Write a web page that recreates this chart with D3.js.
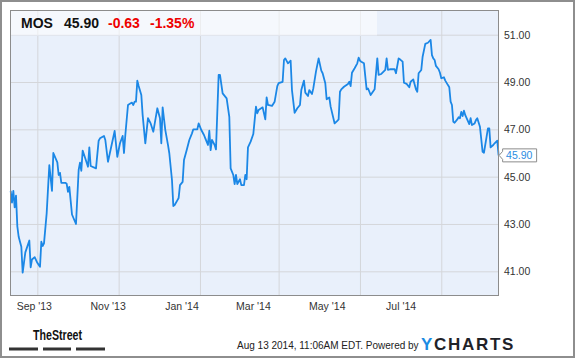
<!DOCTYPE html>
<html>
<head>
<meta charset="utf-8">
<script src="https://cdn.jsdelivr.net/npm/d3@7"></script>
<style>
  body { margin: 0; background: #fff; }
  text { font-family: "Liberation Sans", Arial, sans-serif; }
</style>
</head>
<body>
<div id="chart"></div>
<script>
// daily closes, MOS, Aug 2013 - Aug 2014
let dates = [
  "2013-08-12","2013-08-13","2013-08-14","2013-08-15","2013-08-16","2013-08-17","2013-08-18","2013-08-20","2013-08-21","2013-08-23","2013-08-26","2013-08-27","2013-08-28","2013-08-30",
  "2013-09-01","2013-09-03","2013-09-04","2013-09-05","2013-09-06","2013-09-08","2013-09-10","2013-09-12","2013-09-13","2013-09-16","2013-09-17","2013-09-18","2013-09-19","2013-09-22","2013-09-23","2013-09-24","2013-09-25","2013-09-27","2013-09-30",
  "2013-10-02","2013-10-03","2013-10-04","2013-10-05","2013-10-07","2013-10-09","2013-10-10","2013-10-11","2013-10-15","2013-10-17","2013-10-18","2013-10-21","2013-10-22","2013-10-24","2013-10-27","2013-10-29","2013-10-31",
  "2013-11-02","2013-11-04","2013-11-05","2013-11-06","2013-11-08","2013-11-10","2013-11-11","2013-11-12","2013-11-13","2013-11-14","2013-11-15","2013-11-16","2013-11-18","2013-11-19","2013-11-21","2013-11-23","2013-11-25","2013-11-27","2013-11-30",
  "2013-12-02","2013-12-03","2013-12-04","2013-12-06","2013-12-08","2013-12-09","2013-12-11","2013-12-12","2013-12-13","2013-12-15","2013-12-16","2013-12-17","2013-12-19","2013-12-20","2013-12-22","2013-12-24","2013-12-26","2013-12-27","2013-12-30","2013-12-31",
  "2014-01-02","2014-01-04","2014-01-05","2014-01-07","2014-01-08","2014-01-09","2014-01-10","2014-01-12","2014-01-13","2014-01-15","2014-01-16","2014-01-18","2014-01-21","2014-01-23","2014-01-24","2014-01-26","2014-01-27","2014-01-28","2014-01-29","2014-01-31",
  "2014-02-01","2014-02-03","2014-02-04","2014-02-05","2014-02-06","2014-02-08","2014-02-10","2014-02-12","2014-02-13","2014-02-14","2014-02-17","2014-02-19","2014-02-20","2014-02-21","2014-02-24","2014-02-26","2014-02-28",
  "2014-03-01","2014-03-04","2014-03-05","2014-03-06","2014-03-08","2014-03-10","2014-03-11","2014-03-13","2014-03-15","2014-03-17","2014-03-18","2014-03-20","2014-03-21","2014-03-23","2014-03-24","2014-03-26","2014-03-27","2014-03-29","2014-03-31",
  "2014-04-02","2014-04-03","2014-04-05","2014-04-06","2014-04-08","2014-04-09","2014-04-12","2014-04-14","2014-04-15","2014-04-16","2014-04-17","2014-04-19","2014-04-22","2014-04-23","2014-04-24","2014-04-25","2014-04-27","2014-04-29","2014-04-30",
  "2014-05-01","2014-05-02","2014-05-04","2014-05-06","2014-05-07","2014-05-08","2014-05-09","2014-05-12","2014-05-14","2014-05-15","2014-05-17","2014-05-20","2014-05-21","2014-05-22","2014-05-24","2014-05-27","2014-05-28","2014-05-30","2014-05-31",
  "2014-06-02","2014-06-03","2014-06-05","2014-06-07","2014-06-08","2014-06-10","2014-06-12","2014-06-13","2014-06-14","2014-06-16","2014-06-17","2014-06-19","2014-06-21","2014-06-23","2014-06-24","2014-06-25","2014-06-26","2014-06-27","2014-06-29","2014-06-30",
  "2014-07-01","2014-07-03","2014-07-04","2014-07-06","2014-07-07","2014-07-08","2014-07-09","2014-07-10","2014-07-11","2014-07-13","2014-07-14","2014-07-15","2014-07-16","2014-07-17","2014-07-18","2014-07-19","2014-07-20","2014-07-22","2014-07-23","2014-07-24","2014-07-26","2014-07-27","2014-07-28","2014-07-30",
  "2014-08-01","2014-08-02","2014-08-04","2014-08-05","2014-08-06","2014-08-07","2014-08-09","2014-08-10","2014-08-12","2014-08-13"
];
let prices = [
  44.4, 43.9, 44.4, 43.7, 44.2, 42.9, 42.46, 42.04, 40.94, 41.8, 42.3, 41.17, 41.5, 41.6,
  41.36, 41.19, 42.25, 42.07, 42.18, 43.45, 45.49, 44.4, 46.0, 45.6, 45.07, 45.16, 44.74, 44.74, 44.7, 44.36, 44.57, 43.4, 43.0,
  45.28, 45.59, 45.25, 46.1, 45.77, 45.42, 46.24, 45.45, 45.35, 46.52, 46.62, 46.72, 46.55, 45.63, 46.41, 46.93, 45.84,
  46.41, 46.72, 46.0, 46.76, 48.03, 48.1, 48.13, 48.03, 48.17, 48.17, 49.06, 48.83, 48.45, 47.6, 46.41, 47.47, 47.25, 46.9, 47.89,
  47.47, 46.41, 47.93, 46.97, 46.34, 45.99, 44.86, 43.76, 43.8, 44.0, 44.1, 44.64, 44.78, 45.7, 46.12, 46.55, 46.83, 47.0, 47.0, 47.25,
  46.97, 46.76, 46.62, 46.34, 46.94, 46.12, 46.55, 46.34, 46.15, 49.3, 49.3, 48.52, 48.31, 47.53, 45.35, 45.07, 44.69, 45.07, 44.69, 44.89,
  44.64, 44.64, 45.07, 44.89, 46.24, 46.48, 46.8, 47.96, 47.68, 47.82, 47.93, 47.42, 48.35, 48.03, 47.99, 48.17, 48.83,
  48.95, 49.01, 49.93, 50.0, 49.79, 49.9, 48.66, 47.7, 47.89, 48.03, 48.66, 49.06, 48.55, 48.41, 48.66, 48.49, 48.73, 49.44, 50.0,
  49.48, 49.37, 48.95, 48.27, 48.35, 47.96, 47.25, 47.36, 47.42, 48.59, 48.69, 48.8, 48.92, 49.01, 48.83, 49.39, 49.58, 49.79, 50.03,
  49.9, 49.86, 49.79, 48.69, 48.73, 48.6, 48.45, 48.69, 50.0, 49.3, 49.34, 49.51, 50.0, 49.51, 49.54, 49.54, 49.37, 50.0, 49.96,
  49.86, 48.97, 48.92, 48.78, 49.01, 49.11, 48.69, 48.59, 49.37, 49.51, 50.07, 50.61, 50.66, 50.78, 50.14, 50.0, 49.93, 49.68, 49.54, 49.39,
  49.16, 49.2, 49.06, 48.87, 48.78, 48.17, 48.03, 47.32, 47.28, 47.42, 47.51, 47.47, 47.74, 47.56, 47.79, 47.6, 47.47, 47.22, 47.47, 47.18, 47.25, 47.39, 47.47, 47.11,
  46.05, 46.01, 46.69, 47.04, 47.04, 46.24, 46.34, 46.41, 46.52, 45.90
];

let xTicks = ["2013-09-01", "2013-11-01", "2014-01-01", "2014-03-01", "2014-05-01", "2014-07-01"];
let xTickLabels = ["Sep '13", "Nov '13", "Jan '14", "Mar '14", "May '14", "Jul '14"];
let yTicks = [41, 43, 45, 47, 49, 51];

let ticker = "MOS";
let lastPrice = 45.90;
let change = -0.63;
let changePct = -1.35;
let stamp = "Aug 13 2014, 11:06AM EDT.";

let parse = d3.timeParse("%Y-%m-%d");
let data = dates.map((d, i) => ({ date: parse(d), value: prices[i] }));
let tickDates = xTicks.map(parse);

let width = 575, height = 358;
let margin = ({top: 10, right: 76, bottom: 62, left: 10});
let plotW = width - margin.left - margin.right;
let plotH = height - margin.top - margin.bottom;

let x = d3.scaleTime()
  .domain([new Date(2013, 7, 11, 12), new Date(2014, 7, 13, 7)])
  .range([margin.left, margin.left + plotW]);

// month labels sit on a slightly narrower scale than the grid
let xLabel = x.copy().range([9, 453]);

let y = d3.scaleLinear()
  .domain([39.956, 52.044])
  .range([margin.top + plotH, margin.top]);

const svg = d3.select("#chart").append("svg")
  .attr("width", width)
  .attr("height", height);

svg.append("rect")
  .attr("x", 1).attr("y", 1)
  .attr("width", width - 2).attr("height", height - 2)
  .attr("fill", "#fff")
  .attr("stroke", "#8e8e8e")
  .attr("stroke-width", 2);

svg.append("rect")
  .attr("x", margin.left).attr("y", margin.top)
  .attr("width", plotW).attr("height", plotH)
  .attr("fill", "#e9f0fb");

// grid
svg.append("g")
  .attr("transform", `translate(0,${margin.top + plotH})`)
  .call(d3.axisBottom(x).tickValues(tickDates).tickSize(-plotH).tickFormat(""))
  .call(g => g.select(".domain").remove())
  .call(g => g.selectAll("line").attr("stroke", "#d4d6da"));

svg.append("g")
  .attr("transform", `translate(${margin.left},0)`)
  .call(d3.axisLeft(y).tickValues(yTicks).tickSize(-plotW).tickFormat(""))
  .call(g => g.select(".domain").remove())
  .call(g => g.selectAll("line").attr("stroke", "#d4d6da"));

let line = d3.line()
  .x(d => x(d.date))
  .y(d => y(d.value));

svg.append("path")
  .datum(data)
  .attr("fill", "none")
  .attr("stroke", "#1b87e6")
  .attr("stroke-width", 1.8)
  .attr("stroke-linejoin", "round")
  .attr("d", line);

// header band
svg.append("rect")
  .attr("x", margin.left).attr("y", margin.top)
  .attr("width", 367).attr("height", 25)
  .attr("fill", "#fff")
  .attr("fill-opacity", 0.55);
svg.append("line")
  .attr("x1", margin.left).attr("x2", margin.left + 367)
  .attr("y1", margin.top + 25.5).attr("y2", margin.top + 25.5)
  .attr("stroke", "#e2e6ee");

svg.append("rect")
  .attr("x", margin.left + 0.5).attr("y", margin.top + 0.5)
  .attr("width", plotW - 1).attr("height", plotH - 1)
  .attr("fill", "none")
  .attr("stroke", "#8c8c8c");

let header = svg.append("text")
  .attr("x", 21).attr("y", 28)
  .attr("font-size", "14px")
  .attr("font-weight", "bold");
header.append("tspan").attr("fill", "#111").text(ticker);
header.append("tspan").attr("x", 64).attr("fill", "#111").text(lastPrice.toFixed(2));
header.append("tspan").attr("x", 108).attr("fill", "#ee0000").text(change.toFixed(2));
header.append("tspan").attr("x", 150).attr("fill", "#ee0000").text(changePct.toFixed(2) + "%");

// axes labels
svg.append("g")
  .attr("transform", `translate(${margin.left + plotW},0)`)
  .call(d3.axisRight(y).tickValues(yTicks).tickFormat(d3.format(".2f")).tickSize(0).tickPadding(5))
  .call(g => g.select(".domain").remove())
  .call(g => g.selectAll("text")
    .attr("font-family", "Liberation Sans, Arial, sans-serif")
    .attr("font-size", "10.5px")
    .attr("fill", "#333"));

svg.append("g")
  .attr("transform", `translate(0,${margin.top + plotH})`)
  .call(d3.axisBottom(xLabel).tickValues(tickDates).tickFormat((d, i) => xTickLabels[i]).tickSize(0).tickPadding(7))
  .call(g => g.select(".domain").remove())
  .call(g => g.selectAll("text")
    .attr("font-family", "Liberation Sans, Arial, sans-serif")
    .attr("font-size", "10.5px")
    .attr("fill", "#333"));

// last price callout
let last = data[data.length - 1];
let cx = x(last.date), cy = y(last.value);
svg.append("path")
  .attr("d", `M${cx + 4},${cy - 6.5}H${cx + 38}V${cy + 6.5}H${cx + 4}V${cy + 4}L${cx + 0.5},${cy}L${cx + 4},${cy - 4}Z`)
  .attr("fill", "#fff")
  .attr("stroke", "#8c8c8c");
svg.append("text")
  .attr("x", cx + 7.5).attr("y", cy)
  .attr("dy", "0.36em")
  .attr("font-size", "10.5px")
  .attr("fill", "#2b8de2")
  .text(last.value.toFixed(2));

// footer
svg.append("text")
  .attr("x", 33).attr("y", 340)
  .attr("font-family", "Liberation Sans Narrow, DejaVu Sans Condensed, sans-serif")
  .attr("font-size", "14px")
  .attr("font-weight", "bold")
  .attr("textLength", 49)
  .attr("lengthAdjust", "spacingAndGlyphs")
  .attr("fill", "#111")
  .text("TheStreet");

svg.append("g")
  .selectAll("rect")
  .data([[9, 38], [43, 71], [76, 105]])
  .join("rect")
    .attr("x", d => d[0]).attr("y", 347.5)
    .attr("width", d => d[1] - d[0]).attr("height", 3)
    .attr("fill", "#333");

svg.append("text")
  .attr("x", 237).attr("y", 349)
  .attr("font-size", "10px")
  .attr("fill", "#222")
  .text(stamp + " Powered by");

let logo = svg.append("text")
  .attr("x", 421).attr("y", 350)
  .attr("font-size", "17px")
  .attr("font-weight", "bold")
  .attr("letter-spacing", "1.7px");
logo.append("tspan").attr("fill", "#1b8be3").text("Y");
logo.append("tspan").attr("fill", "#1f2228").text("CHARTS");
</script>
</body>
</html>
